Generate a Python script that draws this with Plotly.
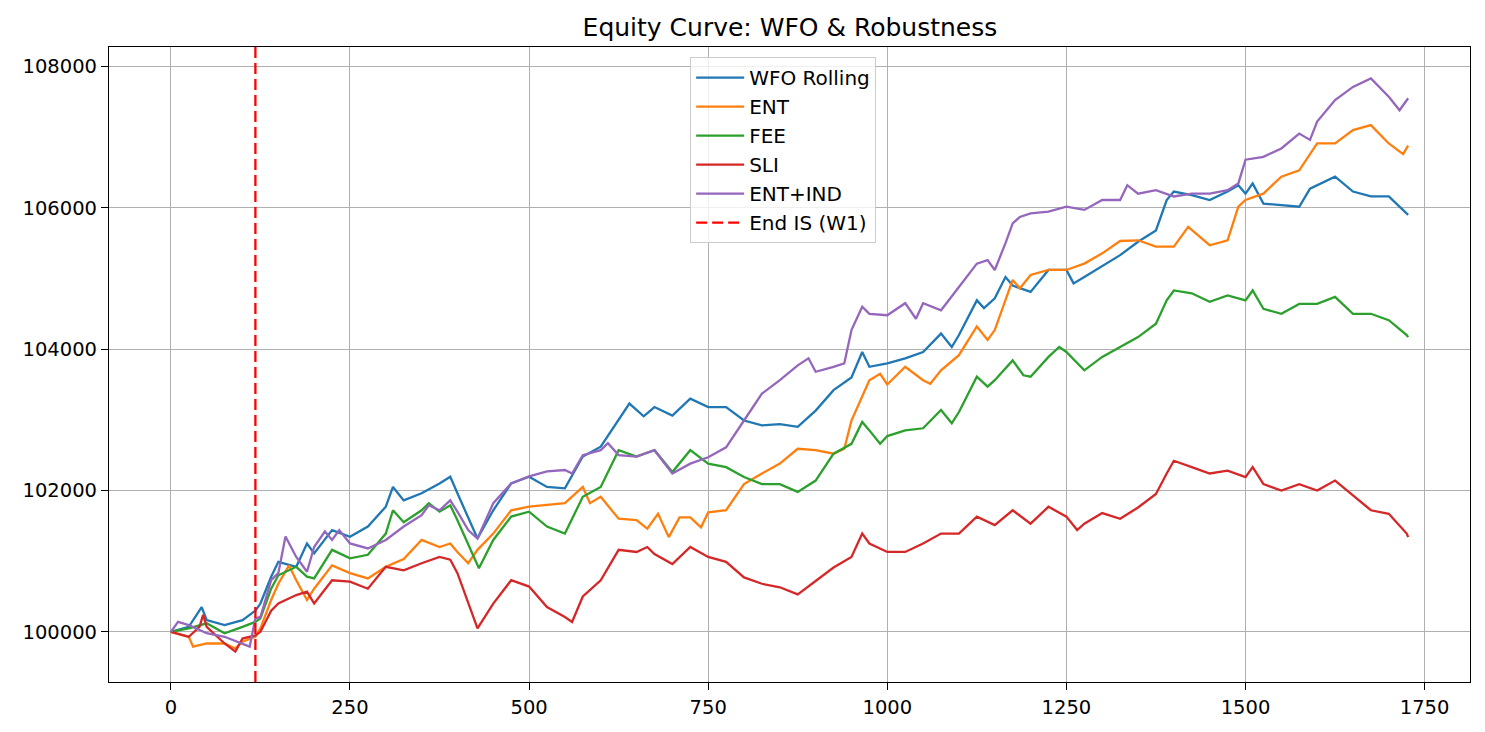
import plotly.graph_objects as go

# values (bar index vs equity)
wfo_x = [0, 25, 43, 50, 75, 100, 118, 125, 140, 150, 175, 190, 200, 225, 250, 275, 300, 310, 325, 350,
         375, 390, 400, 428, 450, 475, 500, 525, 550, 575, 600, 625, 640, 660, 675, 700, 725, 750, 775, 800,
         825, 850, 875, 900, 925, 950, 965, 975, 1000, 1025, 1050, 1075, 1090, 1100, 1125, 1135, 1150, 1165,
         1175, 1200, 1225, 1250, 1260, 1275, 1300, 1325, 1350, 1375, 1390, 1400, 1425, 1450, 1475, 1490,
         1500, 1510, 1525, 1550, 1575, 1590, 1625, 1650, 1675, 1700, 1727]
wfo_y = [100000, 100070, 100350, 100165, 100095, 100165, 100300, 100400, 100780, 100990, 100920, 101250,
         101110, 101440, 101345, 101490, 101770, 102050, 101860, 101960, 102100, 102195, 101960, 101320,
         101720, 102100, 102195, 102050, 102030, 102480, 102620, 103000, 103230, 103050, 103180, 103060,
         103300, 103180, 103180, 102990, 102920, 102940, 102900, 103130, 103420, 103600, 103960, 103750,
         103800, 103870, 103960, 104220, 104030, 104200, 104690, 104580, 104720, 105020, 104900, 104810,
         105120, 105120, 104930, 105020, 105170, 105330, 105520, 105680, 106110, 106230, 106180, 106110,
         106230, 106320, 106200, 106345, 106060, 106040, 106015, 106270, 106440, 106230, 106160, 106160,
         105900]

ent_x = [0, 25, 31, 50, 75, 90, 100, 118, 125, 140, 150, 165, 175, 190, 200, 225, 250, 275, 300, 325,
         350, 375, 390, 400, 415, 428, 450, 475, 500, 525, 550, 575, 585, 600, 625, 650, 665, 680, 695, 710,
         725, 740, 750, 775, 800, 825, 850, 875, 900, 925, 940, 950, 975, 990, 1000, 1025, 1050, 1060, 1075,
         1100, 1125, 1140, 1150, 1175, 1185, 1200, 1225, 1250, 1275, 1300, 1325, 1350, 1375, 1400, 1420,
         1450, 1475, 1490, 1500, 1525, 1550, 1575, 1600, 1625, 1650, 1675, 1700, 1720, 1727]
ent_y = [100000, 99930, 99790, 99835, 99835, 99765, 99860, 99930, 100050, 100450, 100680, 100940, 100730,
         100450, 100610, 100940, 100830, 100755, 100920, 101030, 101300, 101200, 101250, 101130, 100970,
         101160, 101390, 101720, 101770, 101790, 101820, 102050, 101820, 101910, 101600, 101580, 101460,
         101670, 101340, 101620, 101620, 101480, 101690, 101720, 102090, 102240, 102380, 102590, 102570,
         102520, 102590, 102990, 103560, 103650, 103500, 103750, 103560, 103510, 103700, 103915, 104320,
         104130, 104270, 104980, 104860, 105050, 105120, 105120, 105210, 105355, 105530, 105540, 105450,
         105450, 105730, 105470, 105540, 106015, 106110, 106200, 106440, 106530, 106910, 106910, 107100,
         107170, 106910, 106760, 106880]

fee_x = [0, 25, 50, 75, 100, 118, 125, 140, 150, 175, 190, 200, 225, 250, 275, 300, 310, 325, 350, 360,
         375, 390, 400, 430, 450, 475, 500, 525, 550, 575, 600, 625, 650, 675, 700, 725, 750, 775, 800, 825,
         850, 875, 900, 925, 950, 965, 975, 990, 1000, 1025, 1050, 1075, 1090, 1100, 1125, 1140, 1150, 1175,
         1190, 1200, 1225, 1240, 1250, 1275, 1300, 1325, 1350, 1375, 1390, 1400, 1425, 1450, 1475, 1500,
         1510, 1525, 1550, 1575, 1600, 1625, 1650, 1675, 1700, 1725, 1727]
fee_y = [100000, 100050, 100120, 99980, 100070, 100140, 100190, 100610, 100800, 100920, 100780, 100755,
         101160, 101040, 101090, 101390, 101720, 101550, 101720, 101820, 101700, 101790, 101580, 100900,
         101300, 101630, 101700, 101490, 101390, 101910, 102050, 102570, 102480, 102570, 102260, 102570,
         102380, 102330, 102190, 102090, 102090, 101980, 102140, 102520, 102660, 102970, 102850, 102660,
         102770, 102850, 102880, 103140, 102950, 103110, 103610, 103470, 103560, 103840, 103630, 103610,
         103890, 104030, 103960, 103700, 103890, 104030, 104170, 104360, 104690, 104830, 104790, 104670,
         104760, 104690, 104830, 104570, 104500, 104640, 104640, 104740, 104500, 104500, 104410, 104200,
         104170]

sli_x = [0, 25, 40, 45, 50, 75, 90, 100, 118, 125, 140, 150, 175, 190, 200, 225, 250, 275, 300, 325, 350,
         375, 390, 400, 428, 450, 475, 500, 525, 550, 560, 575, 600, 625, 650, 665, 675, 700, 725, 750, 775,
         800, 825, 850, 875, 900, 925, 950, 965, 975, 1000, 1025, 1050, 1075, 1100, 1125, 1150, 1175, 1200,
         1225, 1250, 1265, 1275, 1300, 1325, 1350, 1375, 1390, 1400, 1425, 1450, 1475, 1500, 1510, 1525,
         1550, 1575, 1600, 1625, 1650, 1675, 1700, 1725, 1727]
sli_y = [100000, 99930, 100070, 100240, 100070, 99835, 99720, 99905, 99950, 100000, 100300, 100400, 100520,
         100570, 100400, 100730, 100710, 100610, 100920, 100870, 100970, 101060, 101020, 100830, 100050,
         100400, 100730, 100640, 100350, 100210, 100140, 100500, 100730, 101160, 101130, 101200, 101100,
         100960, 101200, 101060, 100990, 100770, 100680, 100630, 100530, 100720, 100910, 101060, 101390,
         101250, 101130, 101130, 101250, 101390, 101390, 101630, 101510, 101720, 101530, 101770, 101630,
         101440, 101530, 101680, 101600, 101760, 101950, 102240, 102420, 102330, 102240, 102280, 102190,
         102330, 102090, 102000, 102090, 102000, 102140, 101930, 101720, 101670, 101390, 101340]

ind_x = [0, 10, 25, 50, 75, 100, 110, 118, 125, 140, 150, 160, 175, 190, 200, 215, 225, 235, 250, 275,
         300, 325, 350, 360, 375, 390, 400, 415, 428, 450, 475, 500, 525, 550, 560, 575, 600, 610, 625, 650,
         675, 700, 725, 750, 775, 800, 825, 850, 875, 890, 900, 925, 940, 950, 965, 975, 1000, 1025, 1040,
         1050, 1075, 1100, 1125, 1140, 1150, 1165, 1175, 1185, 1200, 1225, 1250, 1275, 1300, 1325, 1335,
         1350, 1375, 1400, 1425, 1450, 1475, 1490, 1500, 1525, 1550, 1575, 1590, 1600, 1625, 1650, 1675,
         1700, 1715, 1727]
ind_y = [100000, 100140, 100095, 99980, 99930, 99835, 99790, 100190, 100210, 100730, 100830, 101350,
         101060, 100850, 101200, 101420, 101300, 101440, 101250, 101180, 101300, 101490, 101650, 101790,
         101720, 101860, 101700, 101440, 101320, 101820, 102100, 102200, 102270, 102290, 102240, 102500,
         102570, 102670, 102500, 102480, 102570, 102240, 102380, 102470, 102610, 102990, 103370, 103560,
         103770, 103870, 103680, 103750, 103800, 104270, 104600, 104500, 104480, 104650, 104430, 104650,
         104550, 104880, 105210, 105260, 105120, 105500, 105780, 105870, 105920, 105945, 106015, 105970,
         106110, 106110, 106320, 106200, 106250, 106160, 106200, 106200, 106250, 106345, 106680, 106720,
         106840, 107050, 106960, 107220, 107525, 107710, 107830, 107570, 107380, 107550]

end_is = 118
x_ticks = [0, 250, 500, 750, 1000, 1250, 1500, 1750]
y_ticks = [100000, 102000, 104000, 106000, 108000]
y_lo, y_hi = 99290, 108275

series = [
    ("WFO Rolling", wfo_x, wfo_y, "#1f77b4"),
    ("ENT", ent_x, ent_y, "#ff7f0e"),
    ("FEE", fee_x, fee_y, "#2ca02c"),
    ("SLI", sli_x, sli_y, "#d62728"),
    ("ENT+IND", ind_x, ind_y, "#9467bd"),
]

fig = go.Figure()
for name, xs, ys, color in series:
    fig.add_trace(go.Scatter(x=xs, y=ys, mode="lines", name=name,
                             line=dict(color=color, width=2.3)))

fig.add_trace(go.Scatter(x=[end_is, end_is], y=[y_lo, y_hi], mode="lines", name="End IS (W1)",
                         line=dict(color="red", width=2.3, dash="11px,5px")))

axis_style = dict(showline=True, linecolor="black", linewidth=1.2, mirror=True,
                  ticks="outside", ticklen=7, tickwidth=1.2, tickcolor="black",
                  showgrid=True, gridcolor="#b0b0b0", gridwidth=1.2, zeroline=False,
                  tickfont=dict(size=19.5, color="black"))

# page body adds an 8px offset, so the figure is sized to fit the window
fig.update_layout(
    width=1477, height=724,
    margin=dict(l=101, r=15, t=39, b=50),
    paper_bgcolor="white", plot_bgcolor="white",
    font=dict(family="DejaVu Sans", color="black"),
    title=dict(text="Equity Curve: WFO & Robustness", x=0.5294, xanchor="center",
               y=0.9738, yanchor="middle", font=dict(size=25)),
    legend=dict(x=0.427, y=0.984, xanchor="left", yanchor="top",
                bgcolor="rgba(255,255,255,0.8)", bordercolor="#cccccc", borderwidth=1,
                font=dict(size=20), itemwidth=48),
    xaxis=dict(range=[-86.35, 1813.35], tickvals=x_ticks, **axis_style),
    yaxis=dict(range=[y_lo, y_hi], tickvals=y_ticks, tickformat="d", **axis_style),
)

fig.write_html("out.html")
